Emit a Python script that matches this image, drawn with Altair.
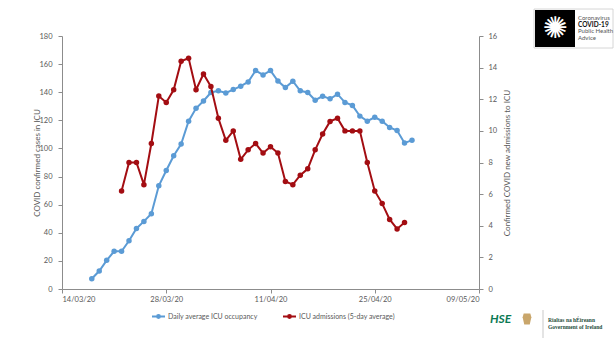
import altair as alt
import pandas as pd

# ---- data ----
blue_name = "Daily average ICU occupancy"
red_name = "ICU admissions (5-day average)"

blue_start = "2020-03-18"
blue_values = [7.3, 12.8, 20.4, 26.8, 26.8, 34.3, 43.1, 48.1, 53.5, 73.4,
               84.3, 94.8, 103.1, 119.4, 128.6, 133.8, 139.8, 141.0, 139.5, 141.9,
               144.3, 147.3, 155.4, 152.3, 155.4, 148.0, 143.3, 147.8, 141.0, 139.8,
               134.3, 137.2, 135.3, 138.6, 132.7, 130.6, 123.0, 119.4, 122.2, 119.4,
               114.9, 112.8, 103.8, 105.9]

red_start = "2020-03-22"
red_values = [6.2, 8.0, 8.0, 6.6, 9.2, 12.2, 11.8, 12.6, 14.4, 14.6,
              12.6, 13.6, 12.8, 10.8, 9.4, 10.0, 8.2, 8.8, 9.2, 8.6,
              9.0, 8.6, 6.8, 6.6, 7.2, 7.6, 8.8, 9.8, 10.6, 10.8,
              10.0, 10.0, 10.0, 8.0, 6.2, 5.4, 4.4, 3.8, 4.2]

axis_start = "2020-03-14"
x_tick_labels = ["14/03/20", "28/03/20", "11/04/20", "25/04/20", "09/05/20"]
left_ticks = list(range(0, 181, 20))
right_ticks = list(range(0, 17, 2))

BLUE = "#5B9BD5"
RED = "#A30D12"
GREY = "#595959"
AXIS = "#8C8C8C"
FONT = "Lato"

t0 = pd.Timestamp(axis_start)


def frame(start, values, name):
    dates = pd.date_range(start, periods=len(values), freq="D")
    return pd.DataFrame({
        "date": dates.strftime("%d/%m/%y"),
        "day": (dates - t0).days,
        "value": values,
        "series": name,
    })


blue_df = frame(blue_start, blue_values, blue_name)
red_df = frame(red_start, red_values, red_name)

label_list = "[" + ",".join("'%s'" % s for s in x_tick_labels) + "]"
x_enc = alt.X(
    "day:Q",
    scale=alt.Scale(domain=[0, 56], nice=False, zero=False),
    axis=alt.Axis(
        title=None,
        values=[0, 14, 28, 42, 56],
        labelExpr=label_list + "[round(datum.value / 14)]",
        tickSize=4,
        labelPadding=2,
    ),
)

color_enc = alt.Color(
    "series:N",
    scale=alt.Scale(domain=[blue_name, red_name], range=[BLUE, RED]),
    legend=alt.Legend(
        title=None,
        orient="none",
        legendX=89,
        legendY=273,
        direction="horizontal",
        columnPadding=21,
        labelOffset=2,
        symbolType="M-1,0L1,0M-0.22,0A0.22,0.22,0,1,0,0.22,0A0.22,0.22,0,1,0,-0.22,0",
        symbolSize=169,
        symbolStrokeWidth=2,
        labelFontSize=7.0,
        labelColor=GREY,
        labelFont=FONT,
    ),
)

pt = alt.OverlayMarkDef(filled=True, size=30, opacity=1)

blue_layer = alt.Chart(blue_df).mark_line(strokeWidth=2, point=pt).encode(
    x=x_enc,
    y=alt.Y(
        "value:Q",
        scale=alt.Scale(domain=[0, 180], nice=False),
        axis=alt.Axis(
            title="COVID confirmed cases in ICU",
            values=left_ticks,
            orient="left",
            tickSize=4,
            labelPadding=6,
            titleX=-25,
            titleY=126.5,
            titleBaseline="middle",
            titleAlign="center",
        ),
    ),
    color=color_enc,
)

red_layer = alt.Chart(red_df).mark_line(strokeWidth=2, point=pt).encode(
    x=x_enc,
    y=alt.Y(
        "value:Q",
        scale=alt.Scale(domain=[0, 16], nice=False),
        axis=alt.Axis(
            title="Confirmed COVID new admissions to ICU",
            values=right_ticks,
            orient="right",
            tickSize=4,
            labelPadding=5,
            titleAngle=-90,
            titleX=28,
            titleY=126.5,
            titleBaseline="middle",
            titleAlign="center",
        ),
    ),
    color=color_enc,
)

# ---- decorations (logos approximated) ----
one = pd.DataFrame({"k": [0]})


def txt(s, x, y, size, color="#333333", weight="normal", font=FONT, align="left", style="normal"):
    return alt.Chart(one).mark_text(
        text=s, fontSize=size, color=color, fontWeight=weight, font=font,
        align=align, baseline="middle", fontStyle=style,
    ).encode(x=alt.value(x), y=alt.value(y))


logo_border = alt.Chart(one).mark_rect(fill="white", stroke="#CCCCCC", strokeWidth=0.8).encode(
    x=alt.value(472), x2=alt.value(551), y=alt.value(-27), y2=alt.value(12))
logo_black = alt.Chart(one).mark_rect(fill="black").encode(
    x=alt.value(473), x2=alt.value(513), y=alt.value(-26), y2=alt.value(11))
virus = alt.Chart(one).mark_text(
    text="✺", fontSize=30, color="white", font="DejaVu Sans", baseline="middle", align="center"
).encode(x=alt.value(493), y=alt.value(-7))

gov_line = alt.Chart(one).mark_rule(color="#BBBBBB", strokeWidth=0.8).encode(
    x=alt.value(481), y=alt.value(274), y2=alt.value(302))
harp = alt.Chart(one).mark_point(
    shape="M-0.6,-1L0.6,-1L0.8,-0.3L0.5,1L-0.5,1L-0.8,-0.3Z",
    filled=True, color="#C9A66B", size=120, opacity=1,
).encode(x=alt.value(465), y=alt.value(283))

decor = [
    logo_border, logo_black, virus,
    txt("Coronavirus", 516, -18, 6, "#555555"),
    txt("COVID-19", 516, -11.5, 6.5, "#111111", weight="bold"),
    txt("Public Health", 516, -5, 6, "#555555"),
    txt("Advice", 516, 1.5, 6, "#555555"),
    txt("HSE", 428, 283, 12, "#0B7A54", weight="bold", style="italic"),
    harp, gov_line,
    txt("Rialtas na hÉireann", 486, 284, 5.5, "#1F4E3D", weight="bold", font="Liberation Serif"),
    txt("Government of Ireland", 486, 290.5, 5.5, "#1F4E3D", weight="bold", font="Liberation Serif"),
]

chart = alt.layer(blue_layer, red_layer, *decor).resolve_scale(
    y="independent"
).properties(
    width=417,
    height=253,
    padding={"left": 62, "top": 36, "right": 135, "bottom": 55},
    autosize=alt.AutoSizeParams(type="none"),
    background="white",
).configure_view(stroke=None).configure_axis(
    grid=False,
    domainColor=AXIS,
    tickColor=AXIS,
    labelColor=GREY,
    titleColor=GREY,
    labelFont=FONT,
    titleFont=FONT,
    labelFontSize=7.5,
    titleFontSize=8,
    titleFontWeight="normal",
)

chart.save("out.html", embed_options={"renderer": "svg", "actions": False})
